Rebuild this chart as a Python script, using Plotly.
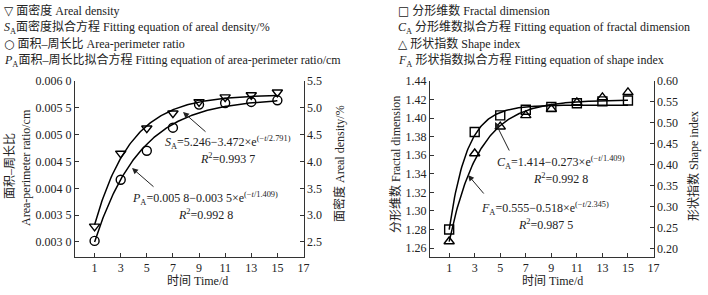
import numpy as np
import plotly.graph_objects as go

# ---------------- data ----------------
time_d = [1, 3, 5, 7, 9, 11, 13, 15]
areal_density = [2.79, 4.15, 4.62, 4.90, 5.11, 5.20, 5.24, 5.29]          # %, right axis (left panel)
area_perimeter = [0.00302, 0.00416, 0.00470, 0.00513, 0.00556, 0.00559, 0.00561, 0.00564]  # cm
fractal_dim = [1.280, 1.385, 1.403, 1.409, 1.412, 1.416, 1.418, 1.419]
shape_index = [0.217, 0.427, 0.491, 0.518, 0.533, 0.549, 0.561, 0.573]

# fitted exponential curves  y = a - b*exp(-t/c)
fit_S = (5.246, 3.472, 2.791)
fit_P = (0.00568, 0.00357, 3.5)     # as drawn in the figure
fit_C = (1.414, 0.273, 1.409)
fit_F = (0.555, 0.518, 2.345)

x_ticks = [1, 3, 5, 7, 9, 11, 13, 15, 17]
p_ticks = [0.0030, 0.0035, 0.0040, 0.0045, 0.0050, 0.0055, 0.0060]
p_ticktext = ["0.003 0", "0.003 5", "0.004 0", "0.004 5", "0.005 0", "0.005 5", "0.006 0"]
s_ticks = [2.5, 3.0, 3.5, 4.0, 4.5, 5.0, 5.5]
c_ticks = [1.26, 1.28, 1.30, 1.32, 1.34, 1.36, 1.38, 1.40, 1.42, 1.44]
f_ticks = [0.20, 0.25, 0.30, 0.35, 0.40, 0.45, 0.50, 0.55, 0.60]

W, H = 708, 295
FONT = "Liberation Serif, Times New Roman, Noto Sans CJK SC, serif"

def fx(px):
    return px / W

def fy(py):
    return 1 - py / H

t = np.linspace(1, 15, 200)
def curve(p):
    a, b, c = p
    return a - b * np.exp(-t / c)

fig = go.Figure()
mk = dict(color="black", size=9, line=dict(color="black", width=1.4))
ln = dict(color="black", width=1.5)

# left panel
fig.add_trace(go.Scatter(x=t, y=curve(fit_S), mode="lines", line=ln, xaxis="x", yaxis="y2", showlegend=False))
fig.add_trace(go.Scatter(x=t, y=curve(fit_P), mode="lines", line=ln, xaxis="x", yaxis="y", showlegend=False))
fig.add_trace(go.Scatter(x=time_d, y=areal_density, mode="markers", xaxis="x", yaxis="y2",
                         marker=dict(symbol="triangle-down-open", **mk), showlegend=False))
fig.add_trace(go.Scatter(x=time_d, y=area_perimeter, mode="markers", xaxis="x", yaxis="y",
                         marker=dict(symbol="circle-open", **mk), showlegend=False))
# right panel
fig.add_trace(go.Scatter(x=t, y=curve(fit_C), mode="lines", line=ln, xaxis="x2", yaxis="y3", showlegend=False))
fig.add_trace(go.Scatter(x=t, y=curve(fit_F), mode="lines", line=ln, xaxis="x2", yaxis="y4", showlegend=False))
fig.add_trace(go.Scatter(x=time_d, y=fractal_dim, mode="markers", xaxis="x2", yaxis="y3",
                         marker=dict(symbol="square-open", **mk), showlegend=False))
fig.add_trace(go.Scatter(x=time_d, y=shape_index, mode="markers", xaxis="x2", yaxis="y4",
                         marker=dict(symbol="triangle-up-open", **mk), showlegend=False))

axcom = dict(showline=True, linecolor="#333", linewidth=1, ticks="inside", ticklen=4,
             tickcolor="#333", showgrid=False, zeroline=False, automargin=False,
             tickfont=dict(family=FONT, size=12, color="#222"))

L = dict(x0=75, x1=303.5, top=81, bot=257)
R = dict(x0=430, x1=653.5, top=81, bot=257)

fig.update_layout(
    width=W, height=H, margin=dict(l=0, r=0, t=0, b=0),
    plot_bgcolor="white", paper_bgcolor="white",
    font=dict(family=FONT, size=12, color="#222"),
    xaxis=dict(domain=[fx(L["x0"]), fx(L["x1"])], anchor="y", range=[-0.5, 17.0001],
               tickvals=x_ticks, **axcom),
    yaxis=dict(domain=[fy(L["bot"]), fy(L["top"])], anchor="x", range=[0.00272, 0.0060001],
               tickvals=p_ticks, ticktext=p_ticktext, **axcom),
    yaxis2=dict(overlaying="y", side="right", anchor="x", range=[2.22, 5.5001],
                tickvals=s_ticks, tickformat=".1f", **axcom),
    xaxis2=dict(domain=[fx(R["x0"]), fx(R["x1"])], anchor="y3", range=[-0.5, 17.0001],
                tickvals=x_ticks, **axcom),
    yaxis3=dict(domain=[fy(R["bot"]), fy(R["top"])], anchor="x2", range=[1.2503, 1.44001],
                tickvals=c_ticks, tickformat=".2f", **axcom),
    yaxis4=dict(overlaying="y3", side="right", anchor="x2", range=[0.18, 0.60001],
                tickvals=f_ticks, tickformat=".2f", **axcom),
)

ann = []
def text(px, py, s, size=12, xanchor="center", angle=0):
    ann.append(dict(x=fx(px), y=fy(py), xref="paper", yref="paper", text=s, showarrow=False,
                    xanchor=xanchor, yanchor="middle", textangle=angle,
                    font=dict(family=FONT, size=size, color="#222")))

def arrow(hx, hy, tx, ty):
    ann.append(dict(x=fx(hx), y=fy(hy), xref="paper", yref="paper", text="", showarrow=True,
                    ax=tx - hx, ay=ty - hy, arrowhead=2, arrowsize=1.2, arrowwidth=1,
                    arrowcolor="#222"))

# legends
sym = "<span style='font-family:DejaVu Sans'><b>%s</b></span>"
text(2, 10, sym % "▽" + " 面密度 Areal density", xanchor="left")
text(2, 27, "<i>S</i><sub>A</sub>面密度拟合方程 Fitting equation of areal density/%", xanchor="left")
text(2, 44, sym % "○" + " 面积–周长比 Area-perimeter ratio", xanchor="left")
text(2, 61, "<i>P</i><sub>A</sub>面积–周长比拟合方程 Fitting equation of area-perimeter ratio/cm", xanchor="left")

text(396, 10, sym % "□" + " 分形维数 Fractal dimension", xanchor="left")
text(396, 27, "<i>C</i><sub>A</sub> 分形维数拟合方程 Fitting equation of fractal dimension", xanchor="left")
text(396, 44, sym % "△" + " 形状指数 Shape index", xanchor="left")
text(396, 61, "<i>F</i><sub>A</sub> 形状指数拟合方程 Fitting equation of shape index", xanchor="left")

# axis titles
text(10, 166, "面积–周长比", angle=-90)
text(26, 168, "Area-perimeter ratio/cm", angle=-90)
text(339, 164, "面密度 Areal density/%", angle=-90)
text(198, 281, "时间 Time/d")
text(395, 165, "分形维数 Fractal dimension", angle=-90)
text(693, 166, "形状指数 Shape index", angle=-90)
text(552, 281, "时间 Time/d")

# equations
text(228, 142, "<i>S</i><sub>A</sub>=5.246−3.472×e<sup>(−<i>t</i>/2.791)</sup>")
text(228, 158, "<i>R</i><sup>2</sup>=0.993 7")
text(205, 198, "<i>P</i><sub>A</sub>=0.005 8−0.003 5×e<sup>(−<i>t</i>/1.409)</sup>")
text(205, 214, "<i>R</i><sup>2</sup>=0.992 8")
text(561, 162, "<i>C</i><sub>A</sub>=1.414−0.273×e<sup>(−<i>t</i>/1.409)</sup>")
text(560, 178, "<i>R</i><sup>2</sup>=0.992 8")
text(545, 208, "<i>F</i><sub>A</sub>=0.555−0.518×e<sup>(−<i>t</i>/2.345)</sup>")
text(545, 224, "<i>R</i><sup>2</sup>=0.987 5")

arrow(183, 112, 207, 133)
arrow(132, 168, 155, 188)
arrow(495, 122, 510, 152)
arrow(468, 175, 485, 195)

fig.update_layout(annotations=ann)
fig.write_html("out.html", config={"displayModeBar": False},
               post_script="document.body.style.margin='0px';document.body.style.overflow='hidden';")
